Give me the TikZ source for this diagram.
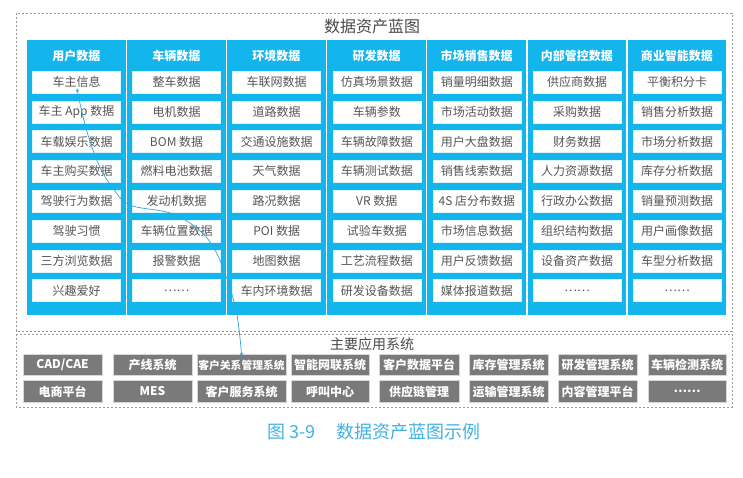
\documentclass[tikz,border=0pt]{standalone}
\usepackage{fontspec}
\newfontfamily\cjk{Noto Sans CJK SC}
\usetikzlibrary{arrows.meta}
\definecolor{panelblue}{HTML}{12B5EC}
\definecolor{boxtext}{HTML}{555555}
\definecolor{titletext}{HTML}{4A4A4A}
\definecolor{sysgray}{HTML}{7A7A7A}
\definecolor{dashgray}{HTML}{9A9A9A}
\definecolor{capblue}{HTML}{3FB2E6}
\definecolor{linkblue}{HTML}{2EA8DC}
\tikzset{
  frame/.style={draw=dashgray, line width=0.9pt, dash pattern=on 2.2pt off 1.8pt},
  panel/.style={fill=panelblue, draw=none},
  titletxt/.style={text=titletext, font=\cjk\fontsize{16}{19}\selectfont, inner sep=0pt},
  subtitletxt/.style={text=titletext, font=\cjk\fontsize{14}{17}\selectfont, inner sep=0pt},
  headtxt/.style={text=white, font=\cjk\bfseries\fontsize{12}{14}\selectfont, inner sep=0pt},
  itembox/.style={fill=white, draw=white!85!panelblue, line width=0.5pt, minimum width=88pt, minimum height=22pt, inner sep=0pt, text=boxtext, font=\cjk\fontsize{12}{14}\selectfont},
  sysbox/.style={fill=sysgray, draw=white!70!sysgray, line width=0.6pt, minimum height=21.5pt, inner sep=0pt, text=white, font=\cjk\bfseries\fontsize{12}{14}\selectfont},
  captxt/.style={text=capblue, font=\cjk\fontsize{18}{21}\selectfont, inner sep=0pt},
  link/.style={draw=linkblue, line width=0.7pt, -{Stealth[length=3.5pt,width=3pt]}}
}
\begin{document}
\begin{tikzpicture}[x=1pt,y=-1pt]
\useasboundingbox (0,0) rectangle (743,478);
\fill[white] (0,0) rectangle (743,478);

% upper frame
\draw[frame] (16,13) rectangle (732,331);
\node[titletxt] (title) at (372,26) {数据资产蓝图};

\foreach [count=\i] \head/\items in {%
  用户数据/{车主信息,车主 App 数据,车载娱乐数据,车主购买数据,驾驶行为数据,驾驶习惯,三方浏览数据,兴趣爱好},%
  车辆数据/{整车数据,电机数据,BOM 数据,燃料电池数据,发动机数据,车辆位置数据,报警数据,……},%
  环境数据/{车联网数据,道路数据,交通设施数据,天气数据,路况数据,POI 数据,地图数据,车内环境数据},%
  研发数据/{仿真场景数据,车辆参数,车辆故障数据,车辆测试数据,VR 数据,试验车数据,工艺流程数据,研发设备数据},%
  市场销售数据/{销量明细数据,市场活动数据,用户大盘数据,销售线索数据,4S 店分布数据,市场信息数据,用户反馈数据,媒体报道数据},%
  内部管控数据/{供应商数据,采购数据,财务数据,人力资源数据,行政办公数据,组织结构数据,设备资产数据,……},%
  商业智能数据/{平衡积分卡,销售分析数据,市场分析数据,库存分析数据,销量预测数据,用户画像数据,车型分析数据,……}%
} {
  \pgfmathsetmacro\cl{27+100.1*(\i-1)}
  \fill[panel] (\cl,40) rectangle ++(98.5,275);
  \node[headtxt] (h\i) at (\cl+49.25,56) {\head};
  \foreach [count=\j] \itm in \items {
    \pgfmathsetmacro\ty{82+29.8*(\j-1)}
    \node[itembox] (b\i-\j) at (\cl+49.5,\ty) {\itm};
  }
}

% lower frame
\draw[frame] (16,334) rectangle (732,407);
\node[subtitletxt] (subtitle) at (372,344) {主要应用系统};

\node[sysbox, minimum width=79pt] (s1) at (62.5,365) {CAD/CAE};
\node[sysbox, minimum width=79pt] (s2) at (152.5,365) {产线系统};
\node[sysbox, minimum width=89pt, font=\cjk\bfseries\fontsize{10.8}{13}\selectfont] (crm) at (241.5,365) {客户关系管理系统};
\node[sysbox, minimum width=78pt] (s4) at (330,365) {智能网联系统};
\node[sysbox, minimum width=80pt] (s5) at (419,365) {客户数据平台};
\node[sysbox, minimum width=79pt] (s6) at (508.5,365) {库存管理系统};
\node[sysbox, minimum width=79pt] (s7) at (597.5,365) {研发管理系统};
\node[sysbox, minimum width=78pt] (s8) at (687,365) {车辆检测系统};

\node[sysbox, minimum width=79pt] (t1) at (62.5,391.5) {电商平台};
\node[sysbox, minimum width=79pt] (t2) at (152.5,391.5) {MES};
\node[sysbox, minimum width=89pt] (t3) at (241.5,391.5) {客户服务系统};
\node[sysbox, minimum width=78pt] (t4) at (330,391.5) {呼叫中心};
\node[sysbox, minimum width=80pt] (t5) at (419,391.5) {供应链管理};
\node[sysbox, minimum width=79pt] (t6) at (508.5,391.5) {运输管理系统};
\node[sysbox, minimum width=79pt] (t7) at (597.5,391.5) {内容管理平台};
\node[sysbox, minimum width=78pt] (t8) at (687,391.5) {……};

% connector
\coordinate (k1) at (237,315);
\coordinate (k2) at (228,282);
\coordinate (k3) at (215,250);
\coordinate (k4) at (198,229);
\coordinate (k5) at (170,213);
\coordinate (k6) at (130,205);
\coordinate (k7) at (112,187);
\coordinate (k8) at (99,165);
\coordinate (k9) at (88,135);
\coordinate (k10) at (81,108);
\coordinate (tip) at ([yshift=5pt,xshift=0.5pt]b1-1.south);
\draw[link] plot[smooth, tension=0.6] coordinates {(crm.north) (k1) (k2) (k3) (k4) (k5) (k6) (k7) (k8) (k9) (k10) (tip)};
\fill[linkblue] (crm.north) circle (1.6pt);

% caption
\node[captxt] (cap) at (374,432) {图 3-9\hspace{1.2em}数据资产蓝图示例};
\end{tikzpicture}
\end{document}
